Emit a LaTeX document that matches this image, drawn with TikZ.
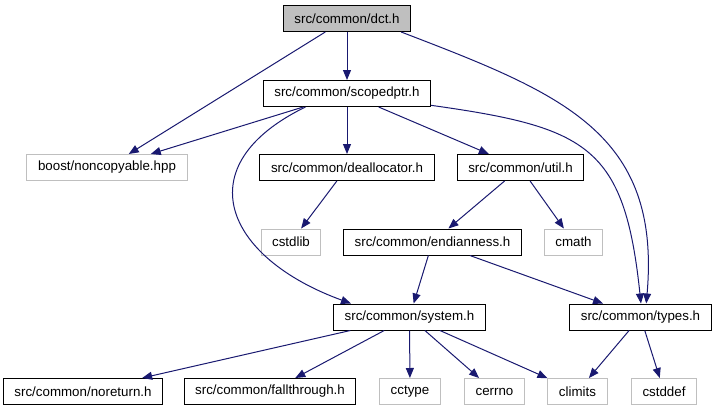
\documentclass[tikz,border=0pt]{standalone}
\usepackage{fontspec}
\setmainfont{Liberation Sans}
\usetikzlibrary{arrows.meta}
\definecolor{edgeblue}{HTML}{191970}
\definecolor{sysgray}{HTML}{BFBFBF}

\begin{document}
\begin{tikzpicture}[x=0.75pt,y=0.75pt,
    hdr/.style={draw=black,line width=0.75pt,minimum height=19.5pt,inner xsep=8.3pt,inner ysep=0pt},
    sys/.style={hdr,draw=sysgray},
    top/.style={hdr,fill=sysgray},
    dep/.style={draw=edgeblue,line width=0.75pt,-{Triangle[length=7.5pt,width=6pt]}}]
      \useasboundingbox (0,0) rectangle (717,-411);
      \draw
        (347,-18.5) node[top] (0){src/common/dct.h}
        (347,-93.5) node[hdr] (1){src/common/scopedptr.h}
        (107,-167.5) node[sys] (2){boost/noncopyable.hpp}
        (347,-167.5) node[hdr] (3){src/common/deallocator.h}
        (520.5,-167.5) node[hdr] (4){src/common/util.h}
        (291,-242) node[sys] (5){cstdlib}
        (432.5,-242) node[hdr] (6){src/common/endianness.h}
        (573.5,-242) node[sys] (7){cmath}
        (409.5,-317) node[hdr] (8){src/common/system.h}
        (640.5,-317) node[hdr] (9){src/common/types.h}
        (83,-391.5) node[hdr] (10){src/common/noreturn.h}
        (270,-391.5) node[hdr] (11){src/common/fallthrough.h}
        (410,-391.5) node[sys] (12){cctype}
        (494.5,-391.5) node[sys] (13){cerrno}
        (577.5,-391.5) node[sys] (14){climits}
        (664,-391.5) node[sys] (15){cstddef};
      \begin{scope}[dep]
        \draw (0) to (1);
        \draw (0) to (2);
        \draw (0.-14) to[out=-21,in=85,looseness=1.2] (9.67);
        \draw (1) to (2);
        \draw (1) to (3);
        \draw (1) to (4);
        \draw (1.198) to[out=206,in=160,looseness=1.7] (8.167);
        \draw (1.-8) to[out=-8,in=96,looseness=1.4] (9.88);
        \draw (3) to (5);
        \draw (4) to (6);
        \draw (4) to (7);
        \draw (6) to (8);
        \draw (6) to (9);
        \draw (8) to (10);
        \draw (8) to (11);
        \draw (8) to (12);
        \draw (8) to (13);
        \draw (8) to (14);
        \draw (9) to (14);
        \draw (9) to (15);
      \end{scope}
    \end{tikzpicture}
\end{document}
